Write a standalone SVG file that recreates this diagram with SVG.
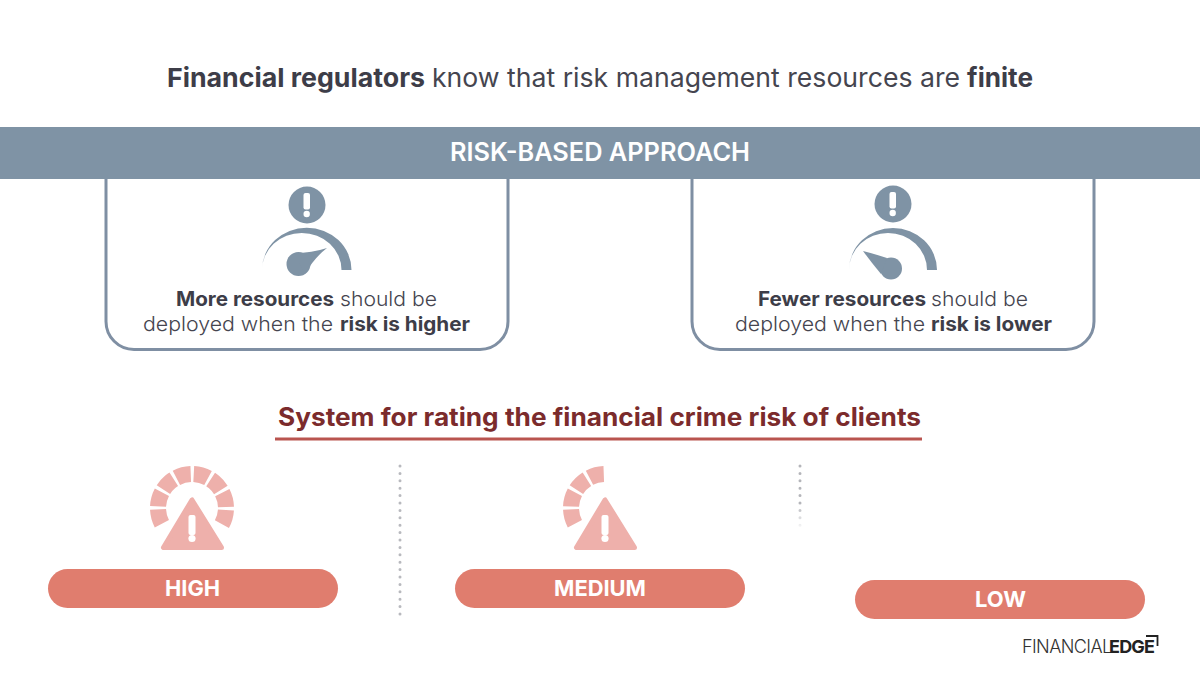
<svg xmlns="http://www.w3.org/2000/svg" width="1200" height="675" viewBox="0 0 1200 675">
<style>
text{font-family:"Inter","Liberation Sans",sans-serif}
.r{fill:#45454f;font-weight:400}
.l{fill:#45454f;font-weight:300}
.b{fill:#3d3d48;font-weight:700}
.t{font-size:26px}
.s{font-size:20px}
.box{fill:#fff;stroke:#7f8fa3;stroke-width:3}
.slate{fill:#7f93a5}
.pill{fill:#e07d6e}
.pt{fill:#fff;font-weight:700;font-size:22px}
.seg{fill:none;stroke:#eeb0ab;stroke-width:16;stroke-dasharray:14.8 3;stroke-dashoffset:-1.5}
.tri{fill:#eeb0ab;stroke:#eeb0ab;stroke-width:5;stroke-linejoin:round}
</style>
<defs>
<linearGradient id="fade" gradientUnits="userSpaceOnUse" x1="0" y1="466" x2="0" y2="528">
<stop offset="0.6" stop-color="#b4b5ba"/><stop offset="1" stop-color="#b4b5ba" stop-opacity="0.1"/>
</linearGradient>
</defs>
<rect width="1200" height="675" fill="#fff"/>
<g id="title">
<text class="t" y="87"><tspan class="b" x="167" textLength="258" lengthAdjust="spacingAndGlyphs">Financial regulators</tspan><tspan class="r" x="432" textLength="528" lengthAdjust="spacingAndGlyphs">know that risk management resources are</tspan><tspan class="b" x="967" textLength="66" lengthAdjust="spacingAndGlyphs">finite</tspan></text>
</g>
<g id="box-higher">
<rect class="box" x="106" y="135" width="402" height="214.500" rx="28"/>
<circle class="slate" cx="307" cy="205" r="18.500"/>
<rect x="303.500" y="193" width="6.500" height="16.500" rx="2" fill="#fff"/>
<circle cx="306.700" cy="214" r="3.200" fill="#fff"/>
<path class="slate" d="M262 270A44.750 42.300 0 0 1 351.500 270H341.500A39.750 37 0 0 0 262 270Z"/>
<circle class="slate" cx="298.500" cy="264" r="12"/>
<path class="slate" d="M294 253Q312 253 327 248Q314 258 305 274Z"/>
<text class="s" y="306"><tspan class="b" x="176" textLength="158" lengthAdjust="spacingAndGlyphs">More resources</tspan><tspan class="l" x="340" textLength="97" lengthAdjust="spacingAndGlyphs">should be</tspan></text>
<text class="s" y="330.500"><tspan class="l" x="143" textLength="190" lengthAdjust="spacingAndGlyphs">deployed when the</tspan><tspan class="b" x="340" textLength="130" lengthAdjust="spacingAndGlyphs">risk is higher</tspan></text>
</g>
<g id="box-lower">
<rect class="box" x="692" y="135" width="402" height="214.500" rx="28"/>
<circle class="slate" cx="893" cy="204" r="18.500"/>
<rect x="889.500" y="192" width="6.500" height="16.500" rx="2" fill="#fff"/>
<circle cx="892.700" cy="213" r="3.200" fill="#fff"/>
<path class="slate" d="M849 270A44 42 0 0 1 937 270H927A39 37 0 0 0 849 270Z"/>
<circle class="slate" cx="891" cy="268.500" r="11"/>
<path class="slate" d="M863 251Q875 254 887 258L881 274Q871 262 863 251Z"/>
<text class="s" y="306"><tspan class="b" x="758" textLength="168" lengthAdjust="spacingAndGlyphs">Fewer resources</tspan><tspan class="l" x="931" textLength="97" lengthAdjust="spacingAndGlyphs">should be</tspan></text>
<text class="s" y="330.500"><tspan class="l" x="735" textLength="190" lengthAdjust="spacingAndGlyphs">deployed when the</tspan><tspan class="b" x="931" textLength="121" lengthAdjust="spacingAndGlyphs">risk is lower</tspan></text>
</g>
<g id="banner">
<rect class="slate" x="0" y="127" width="1200" height="52"/>
<text x="600" y="161" text-anchor="middle" fill="#fff" font-size="25" font-weight="600" textLength="300" lengthAdjust="spacingAndGlyphs">RISK-BASED APPROACH</text>
</g>
<g id="subtitle">
<text x="599.500" y="426" text-anchor="middle" fill="#7b2b2c" font-size="25" font-weight="700" textLength="643" lengthAdjust="spacingAndGlyphs">System for rating the financial crime risk of clients</text>
<rect x="275" y="437.500" width="647" height="3" fill="#b9544f"/>
</g>
<g id="high">
<path class="seg" d="M162.560 525A34 34 0 1 1 221.440 525"/>
<path class="tri" d="M192 500L163.500 547.500H221.500Z"/>
<rect x="188.500" y="515" width="7" height="20" rx="2" fill="#fff"/>
<circle cx="192" cy="538.500" r="3.600" fill="#fff"/>
<rect class="pill" x="48" y="569" width="290" height="39" rx="19.500"/>
<text class="pt" x="192.500" y="596" text-anchor="middle" textLength="55" lengthAdjust="spacingAndGlyphs">HIGH</text>
</g>
<g id="medium">
<path class="seg" d="M575.560 525A34 34 0 0 1 605 474"/>
<path class="tri" d="M605 500L576.500 547.500H634.500Z"/>
<rect x="601.500" y="515" width="7" height="20" rx="2" fill="#fff"/>
<circle cx="605" cy="538.500" r="3.600" fill="#fff"/>
<rect class="pill" x="455" y="569" width="290" height="39" rx="19.500"/>
<text class="pt" x="600" y="596" text-anchor="middle" textLength="92" lengthAdjust="spacingAndGlyphs">MEDIUM</text>
</g>
<g id="low">
<rect class="pill" x="855" y="580" width="290" height="39" rx="19.500"/>
<text class="pt" x="1000.500" y="607" text-anchor="middle" textLength="51" lengthAdjust="spacingAndGlyphs">LOW</text>
</g>
<g id="connectors" fill="none" stroke-linecap="round" stroke-width="3">
<path d="M400 466V618" stroke="#b8b9be" stroke-dasharray="0 7.400"/>
<path d="M800 466V528" stroke="url(#fade)" stroke-dasharray="0 7.400"/>
</g>
<g id="logo">
<text x="1022" y="653" font-size="18" font-weight="300" fill="#333" letter-spacing="-0.6">FINANCIAL</text>
<text x="1109" y="653" font-size="18" font-weight="700" fill="#222" letter-spacing="-0.8">EDGE</text>
<path d="M1146 636H1157.500V646" fill="none" stroke="#222" stroke-width="1.800"/>
</g>
</svg>
